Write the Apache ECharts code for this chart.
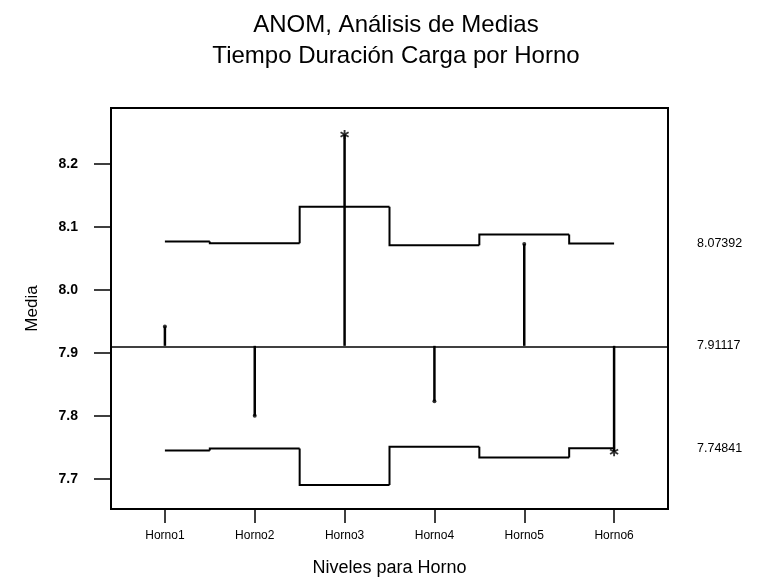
<!DOCTYPE html>
<html>
<head>
<meta charset="utf-8">
<script src="https://cdn.jsdelivr.net/npm/echarts@6/dist/echarts.min.js"></script>
<style>
  html, body { margin: 0; padding: 0; background: #ffffff; }
  #chart { width: 757px; height: 580px; }
</style>
</head>
<body>
<div id="chart"></div>
<script>
// Oven levels (x positions 1..6) and their labels
const hornos = ['Horno1', 'Horno2', 'Horno3', 'Horno4', 'Horno5', 'Horno6'];
const posiciones = [1, 2, 3, 4, 5, 6];
// Mean load time per oven
const medias = [7.942, 7.800, 8.247, 7.823, 8.073, 7.743];
// ANOM decision limits per oven
const limiteSuperior = [8.077, 8.074, 8.132, 8.071, 8.088, 8.07392];
const limiteInferior = [7.745, 7.748, 7.690, 7.751, 7.734, 7.74841];
// Grand mean (centre line)
const mediaGeneral = 7.91117;
// Values printed on the right margin
const valoresDerecha = [8.07392, 7.91117, 7.74841];
// Y tick values
const ticksY = [7.7, 7.8, 7.9, 8.0, 8.1, 8.2];

const FONT = '"Liberation Sans", Arial, sans-serif';

// Each limit level holds from the midpoint with the previous oven to the
// midpoint with the next one; the first and last stop at the oven itself.
function datosEscalon(ys) {
  return posiciones.map(function (x, i) {
    const ini = i === 0 ? x : (posiciones[i - 1] + x) / 2;
    const fin = i === posiciones.length - 1 ? x : (x + posiciones[i + 1]) / 2;
    const prev = i === 0 ? ys[i] : ys[i - 1];
    return [ini, fin, ys[i], prev];
  });
}

function renderEscalon(params, api) {
  const pPrev = api.coord([api.value(0), api.value(3)]);
  const pIni = api.coord([api.value(0), api.value(2)]);
  const pFin = api.coord([api.value(1), api.value(2)]);
  return {
    type: 'polyline',
    shape: { points: [pPrev, pIni, pFin] },
    style: { stroke: '#000', lineWidth: 2, fill: null, lineJoin: 'miter' }
  };
}

// Six-armed asterisk for means outside the limits
function asteriskPath() {
  const c = 5, r = 5, w = 1;
  let d = '';
  [0, 60, 120].forEach(function (deg) {
    const a = deg * Math.PI / 180;
    const dx = Math.sin(a), dy = -Math.cos(a);
    const px = Math.cos(a) * w, py = Math.sin(a) * w;
    const x1 = c + dx * r, y1 = c + dy * r, x2 = c - dx * r, y2 = c - dy * r;
    d += 'M' + (x1 + px).toFixed(3) + ',' + (y1 + py).toFixed(3) +
         'L' + (x1 - px).toFixed(3) + ',' + (y1 - py).toFixed(3) +
         'L' + (x2 - px).toFixed(3) + ',' + (y2 - py).toFixed(3) +
         'L' + (x2 + px).toFixed(3) + ',' + (y2 + py).toFixed(3) + 'Z';
  });
  return 'path://' + d;
}
const STAR = asteriskPath();

const puntos = posiciones.map(function (x, i) {
  const fuera = medias[i] > limiteSuperior[i] || medias[i] < limiteInferior[i];
  return {
    value: [x, medias[i]],
    symbol: fuera ? STAR : 'circle',
    symbolSize: fuera ? 9 : 4
  };
});

const chart = echarts.init(document.getElementById('chart'), null, { renderer: 'canvas' });

chart.setOption({
  backgroundColor: '#ffffff',
  animation: false,
  title: {
    text: 'ANOM, Análisis de Medias\nTiempo Duración Carga por Horno',
    left: 391,
    textAlign: 'center',
    top: 5,
    textStyle: {
      fontFamily: FONT,
      fontSize: 24,
      fontWeight: 'normal',
      color: '#000',
      lineHeight: 31
    }
  },
  grid: {
    left: 111, right: 89, top: 108, bottom: 71,
    outerBoundsMode: 'none',
    containLabel: false,
    show: true,
    borderColor: '#000',
    borderWidth: 2,
    backgroundColor: 'transparent'
  },
  xAxis: {
    type: 'value',
    min: 0.4,
    max: 6.6,
    name: 'Niveles para Horno',
    nameLocation: 'middle',
    nameGap: 50,
    nameTextStyle: { fontFamily: FONT, fontSize: 18, color: '#000' },
    axisLine: { show: true, lineStyle: { color: '#000', width: 2 } },
    axisTick: {
      show: true, inside: false, length: 14,
      customValues: posiciones,
      lineStyle: { color: '#000', width: 1.5 }
    },
    axisLabel: {
      customValues: posiciones,
      margin: 21,
      fontFamily: FONT,
      fontSize: 12,
      color: '#000',
      formatter: function (v) { return hornos[Math.round(v) - 1]; }
    },
    splitLine: { show: false }
  },
  yAxis: [{
    type: 'value',
    min: 7.652,
    max: 8.289,
    name: 'Media',
    nameLocation: 'middle',
    nameGap: 70,
    nameRotate: 90,
    nameTextStyle: { fontFamily: FONT, fontSize: 17, color: '#000' },
    axisLine: { show: true, lineStyle: { color: '#000', width: 2 } },
    axisTick: {
      show: true, inside: false, length: 17,
      customValues: ticksY,
      lineStyle: { color: '#000', width: 1.5 }
    },
    axisLabel: {
      customValues: ticksY,
      margin: 33,
      fontFamily: FONT,
      fontSize: 14,
      fontWeight: 'bold',
      color: '#000',
      formatter: function (v) { return v.toFixed(1); }
    },
    splitLine: { show: false }
  }, {
    type: 'value',
    position: 'right',
    min: 7.652,
    max: 8.289,
    axisLine: { show: false },
    axisTick: { show: false },
    axisLabel: {
      customValues: valoresDerecha,
      margin: 29,
      fontFamily: FONT,
      fontSize: 12.5,
      color: '#000',
      formatter: function (v) { return v.toFixed(5); }
    },
    splitLine: { show: false }
  }],
  series: [
    {
      name: 'Límite superior',
      type: 'custom',
      data: datosEscalon(limiteSuperior),
      encode: { x: [0, 1], y: [2, 3] },
      renderItem: renderEscalon,
      z: 3,
      markLine: {
        silent: true,
        symbol: ['none', 'none'],
        label: { show: false },
        lineStyle: { color: '#000', width: 1.5, type: 'solid' },
        data: [{ yAxis: mediaGeneral }]
      }
    },
    {
      name: 'Límite inferior',
      type: 'custom',
      data: datosEscalon(limiteInferior),
      encode: { x: [0, 1], y: [2, 3] },
      renderItem: renderEscalon,
      z: 3
    },
    {
      name: 'Desviación',
      type: 'custom',
      data: posiciones.map(function (x, i) { return [x, medias[i]]; }),
      renderItem: function (params, api) {
        const top = api.coord([api.value(0), api.value(1)]);
        const base = api.coord([api.value(0), mediaGeneral]);
        return {
          type: 'line',
          shape: { x1: base[0], y1: base[1], x2: top[0], y2: top[1] },
          style: { stroke: '#000', lineWidth: 2.5 }
        };
      },
      z: 4
    },
    {
      name: 'Medias',
      type: 'scatter',
      data: puntos,
      itemStyle: { color: '#000' },
      z: 5
    }
  ]
});
</script>
</body>
</html>
